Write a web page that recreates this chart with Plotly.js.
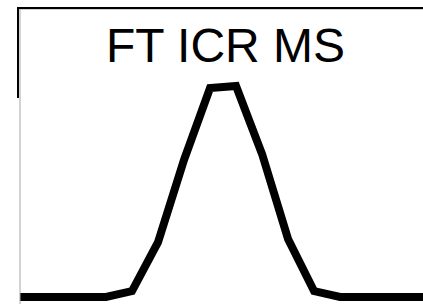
<!DOCTYPE html>
<html>
<head>
<meta charset="utf-8">
<script src="https://cdn.plot.ly/plotly-3.0.1.min.js"></script>
<style>
html, body { margin: 0; padding: 0; overflow: hidden; background: #fff; }
#chart { width: 423px; height: 304px; }
</style>
</head>
<body>
<div id="chart"></div>
<script>
// Scan index (arbitrary units) and normalized intensity
const scanIndex = [-4, -3, -2, -1, 0, 1, 2, 3, 4, 5, 6, 7, 8, 9, 10, 11, 12, 13];
const intensity = [0, 0, 0, 0, 0, 2.8, 26, 65, 99, 100, 67.8, 27.5, 2.8, 0, 0, 0, 0, 0];
const titleText = "FT ICR MS";

const W = 423, H = 304, L = 20, T = 9;
const PW = W - L, PH = H - T;
const px = (x) => (x - L) / PW;       // pixel -> paper x
const py = (y) => (H - y) / PH;       // pixel -> paper y

const trace = {
  x: scanIndex,
  y: intensity,
  type: 'scatter',
  mode: 'lines',
  line: { color: '#000000', width: 8 },
  hoverinfo: 'skip'
};

const layout = {
  width: W,
  height: H,
  margin: { l: L, r: 0, t: T, b: 0, pad: 0 },
  paper_bgcolor: '#ffffff',
  plot_bgcolor: '#ffffff',
  showlegend: false,
  xaxis: {
    range: [-3.308, 12.19],
    showgrid: false, zeroline: false, showticklabels: false, ticks: '',
    showline: false
  },
  yaxis: {
    range: [-3.32, 136.5],
    showgrid: false, zeroline: false, showticklabels: false, ticks: '',
    showline: false
  },
  annotations: [{
    text: titleText,
    xref: 'paper', yref: 'paper',
    x: px(225), xanchor: 'center',
    y: py(74), yanchor: 'bottom',
    showarrow: false,
    font: { family: 'Liberation Sans, Arial, sans-serif', size: 48, color: '#000000' }
  }],
  shapes: [
    // gray frame lines (left and top)
    { type: 'line', xref: 'paper', yref: 'paper',
      x0: 0, x1: 0, y0: -0.05, y1: 1,
      line: { color: '#a6a6a6', width: 1 } },
    { type: 'line', xref: 'paper', yref: 'paper',
      x0: 0, x1: 1.05, y0: 1, y1: 1,
      line: { color: '#a6a6a6', width: 1 } },
    // black outer frame segments (drawn as one open path: left stub + top edge)
    { type: 'path', xref: 'paper', yref: 'paper',
      path: 'M ' + px(18) + ' ' + py(98) + ' L ' + px(18) + ' ' + py(8) + ' L 1.05 ' + py(8),
      line: { color: '#000000', width: 2 } }
  ]
};

Plotly.newPlot('chart', [trace], layout, { staticPlot: true, displayModeBar: false });
</script>
</body>
</html>
